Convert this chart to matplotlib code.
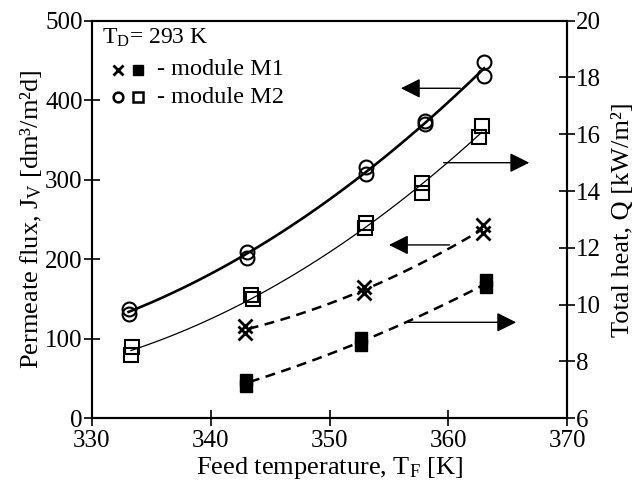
import numpy as np
import matplotlib
matplotlib.use("Agg")
import matplotlib.pyplot as plt

plt.rcParams['font.family'] = ['Liberation Serif', 'DejaVu Serif']
plt.rcParams['mathtext.fontset'] = 'custom'
plt.rcParams['mathtext.rm'] = 'Liberation Serif'
plt.rcParams['mathtext.it'] = 'Liberation Serif:italic'

# module M2 - permeate flux (circles), left axis
t_m2_flux = [333.1, 333.1, 343.1, 343.1, 353.1, 353.1, 358.0, 358.0, 363.0, 363.0]
flux_m2 = [138, 131, 209, 202, 316, 307, 374, 370, 448, 430]

# module M2 - total heat (open squares), right axis
t_m2_heat = [333.4, 333.3, 343.4, 343.6, 353.1, 353.0, 357.8, 357.8, 362.8, 362.6]
heat_m2 = [8.52, 8.23, 10.34, 10.19, 12.87, 12.71, 14.27, 13.94, 16.29, 15.92]

# module M1 - permeate flux (crosses), left axis
t_m1_flux = [342.9, 342.9, 352.9, 352.9, 362.9, 362.9]
flux_m1 = [116, 107, 165, 158, 243, 233]

# module M1 - total heat (filled squares), right axis
t_m1_heat = [343.0, 343.0, 352.65, 352.65, 363.2, 363.2]
heat_m1 = [7.35, 7.14, 8.82, 8.58, 10.87, 10.63]


def fit_curve(x, y, x0, x1):
    c = np.polyfit(x, y, 2)
    xs = np.linspace(x0, x1, 100)
    return xs, np.polyval(c, xs)


fig = plt.figure(figsize=(6.43, 4.96), dpi=100)
ax = fig.add_axes([0.1426, 0.1567, 0.7397, 0.8016])
ax2 = ax.twinx()

# curves
xs, ys = fit_curve(t_m2_flux, flux_m2, 333.1, 363.0)
ax.plot(xs, ys, color='black', lw=1.9)
xs, ys = fit_curve(t_m1_flux, flux_m1, 343.2, 362.9)
ax.plot(xs, ys, color='black', lw=1.8, dashes=(4, 2.6))
xs, ys = fit_curve(t_m2_heat, heat_m2, 333.3, 362.8)
ax2.plot(xs, ys, color='black', lw=0.9)
xs, ys = fit_curve(t_m1_heat, heat_m1, 343.3, 363.0)
ax2.plot(xs, ys, color='black', lw=1.8, dashes=(4, 2.6))

# markers
ax.plot(t_m2_flux, flux_m2, 'o', ms=10, mfc='none', mec='black', mew=1.5)
ax.plot(t_m1_flux, flux_m1, 'x', ms=10, mec='black', mew=2.0)
ax2.plot(t_m2_heat, heat_m2, 's', ms=10, mfc='none', mec='black', mew=1.5)
ax2.plot(t_m1_heat, heat_m1, 's', ms=8, mfc='black', mec='black')

# arrows (start on curve, pointing to the axis)
arrows = [((361.0, 415), (356.0, 415)),
          ((359.6, 321.4), (366.8, 321.4)),
          ((360.1, 218), (355.0, 218)),
          ((356.6, 120.7), (365.7, 120.7))]
for (x0, y0), (x1, y1) in arrows:
    ax.annotate('', xy=(x1, y1), xytext=(x0, y0),
                arrowprops=dict(arrowstyle='-|>,head_length=1.2,head_width=0.6',
                                color='black', lw=1.0, shrinkA=0, shrinkB=0))

ax.set_xlim(330, 370)
ax.set_ylim(0, 500)
ax2.set_ylim(6, 20)
ax.set_xticks([330, 340, 350, 360, 370])
ax.set_yticks([0, 100, 200, 300, 400, 500])
ax2.set_yticks([6, 8, 10, 12, 14, 16, 18, 20])

for a in (ax, ax2):
    for s in a.spines.values():
        s.set_linewidth(1.5)
    a.tick_params(direction='inout', length=11, width=1.2, labelsize=18, pad=1)
ax.tick_params(axis='x', pad=3)
ax.tick_params(top=False)

ax.set_xlabel('Feed temperature, T$_\\mathrm{F}$ [K]', fontsize=19, labelpad=2)
ax.set_ylabel('Permeate flux, J$_\\mathrm{V}$ [dm\u00b3/m\u00b2d]', fontsize=19, labelpad=1)
ax2.set_ylabel('Total heat, Q [kW/m\u00b2]', fontsize=19, labelpad=8)

# legend block
tr = ax.transAxes
ax.text(0.021, 0.956, 'T$_\\mathrm{D}$= 293 K', transform=tr, fontsize=17, va='center')
ax.plot([0.055], [0.876], 'x', transform=tr, ms=7, mec='black', mew=2.0, clip_on=False)
ax.plot([0.097], [0.876], 's', transform=tr, ms=7, mfc='black', mec='black', clip_on=False)
ax.text(0.137, 0.876, '- module M1', transform=tr, fontsize=17.5, va='center')
ax.plot([0.055], [0.808], 'o', transform=tr, ms=7, mfc='none', mec='black', mew=1.8, clip_on=False)
ax.plot([0.097], [0.808], 's', transform=tr, ms=7, mfc='none', mec='black', mew=1.8, clip_on=False)
ax.text(0.137, 0.808, '- module M2', transform=tr, fontsize=17.5, va='center')

fig.savefig('out.png', dpi=100)
